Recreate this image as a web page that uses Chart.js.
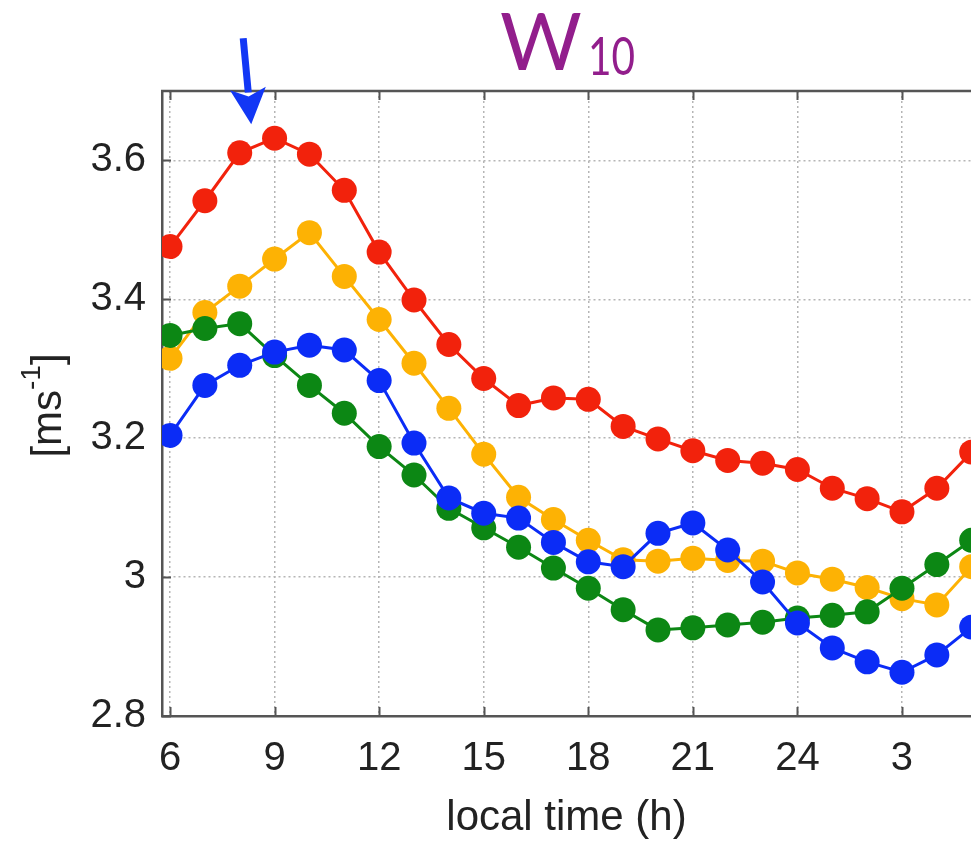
<!DOCTYPE html>
<html>
<head>
<meta charset="utf-8">
<script src="https://cdn.jsdelivr.net/npm/chart.js@4/dist/chart.umd.min.js"></script>
<style>
  html, body { margin: 0; padding: 0; background: #fff; overflow: hidden; }
  #wrap { position: relative; width: 971px; height: 844px; }
</style>
</head>
<body>
<div id="wrap"><canvas id="c" width="971" height="844"></canvas></div>
<script>
// Hour of day (after 24 the clock wraps: 25 -> 1, 27 -> 3 ...)
const hours = [6, 7, 8, 9, 10, 11, 12, 13, 14, 15, 16, 17, 18, 19, 20, 21, 22, 23, 24, 25, 26, 27, 28, 29];

// Mean 10 m wind speed, m/s
const redSeries    = [3.476, 3.542, 3.611, 3.632, 3.609, 3.557, 3.468, 3.399, 3.335, 3.286, 3.247, 3.258, 3.256, 3.217, 3.199, 3.182, 3.168, 3.164, 3.155, 3.128, 3.113, 3.094, 3.128, 3.180];
const blueSeries   = [3.204, 3.276, 3.305, 3.324, 3.334, 3.327, 3.283, 3.193, 3.114, 3.092, 3.085, 3.050, 3.022, 3.015, 3.063, 3.078, 3.039, 2.993, 2.934, 2.898, 2.878, 2.863, 2.888, 2.928];
const greenSeries  = [3.348, 3.358, 3.365, 3.319, 3.276, 3.236, 3.188, 3.147, 3.099, 3.071, 3.043, 3.013, 2.984, 2.953, 2.924, 2.927, 2.931, 2.935, 2.941, 2.945, 2.950, 2.984, 3.018, 3.053];
const orangeSeries = [3.315, 3.381, 3.419, 3.458, 3.496, 3.433, 3.371, 3.308, 3.243, 3.177, 3.115, 3.083, 3.053, 3.025, 3.023, 3.027, 3.024, 3.023, 3.006, 2.997, 2.985, 2.969, 2.960, 3.015];

const xTicks = [6, 9, 12, 15, 18, 21, 24, 27];
const yTicks = [2.8, 3.0, 3.2, 3.4, 3.6];

const colors = { red: '#F2220C', blue: '#0B2CF6', green: '#0C8714', orange: '#FDB204' };

const pts = vals => vals.map((v, i) => ({ x: hours[i], y: v }));

function series(vals, color) {
  return {
    data: pts(vals),
    borderColor: color,
    backgroundColor: color,
    borderWidth: 3,
    pointRadius: 12.5,
    pointBorderWidth: 0,
    pointBackgroundColor: color,
    tension: 0
  };
}

const AXIS_COLOR = '#555';
const TEXT_COLOR = '#222';
const FONT = 'Liberation Sans, Arial, sans-serif';

// Frame on top, inward tick marks, y-axis title, W10 heading, arrow
const decorations = {
  id: 'decorations',
  beforeDatasetsDraw(chart) {
    const { ctx, chartArea: a, scales: { x, y } } = chart;
    ctx.save();
    ctx.strokeStyle = AXIS_COLOR;
    ctx.lineWidth = 2.5;
    ctx.beginPath();
    ctx.moveTo(a.left - 1, a.top);
    ctx.lineTo(a.right, a.top);
    ctx.stroke();
    ctx.lineWidth = 2;
    ctx.beginPath();
    xTicks.forEach(v => {
      const px = Math.round(x.getPixelForValue(v)) + 0.5;
      ctx.moveTo(px, a.bottom); ctx.lineTo(px, a.bottom - 9);
      ctx.moveTo(px, a.top); ctx.lineTo(px, a.top + 9);
    });
    yTicks.forEach(v => {
      const py = Math.round(y.getPixelForValue(v)) + 0.5;
      ctx.moveTo(a.left, py); ctx.lineTo(a.left + 9, py);
    });
    ctx.stroke();
    ctx.restore();
  },
  afterDraw(chart) {
    const { ctx, chartArea: a, scales: { x, y } } = chart;
    ctx.save();

    // y-axis title: [ms^-1]
    const cy = (a.top + a.bottom) / 2 + 2;
    ctx.translate(61, cy);
    ctx.rotate(-Math.PI / 2);
    ctx.fillStyle = TEXT_COLOR;
    ctx.textBaseline = 'alphabetic';
    const big = '42px ' + FONT, small = '28px ' + FONT;
    ctx.font = big;
    const w1 = ctx.measureText('[ms').width;
    const w3 = ctx.measureText(']').width;
    ctx.font = small;
    const w2 = ctx.measureText('-1').width;
    let tx = -(w1 + w2 + w3) / 2;
    ctx.font = big;
    ctx.fillText('[ms', tx, 0); tx += w1;
    ctx.font = small;
    ctx.fillText('-1', tx, -21); tx += w2;
    ctx.font = big;
    ctx.fillText(']', tx, 0);
    ctx.restore();

    // heading
    ctx.save();
    ctx.fillStyle = '#921E8C';
    ctx.textBaseline = 'alphabetic';
    ctx.font = '79px Lato';
    ctx.fillText('W', 500, 70);
    ctx.save();
    ctx.translate(588, 75);
    ctx.scale(0.78, 1);
    ctx.font = '52px Lato';
    ctx.fillText('10', 0, 0);
    ctx.restore();
    ctx.restore();

    // arrow marking the morning peak
    const x0 = x.getPixelForValue(8.10), y0 = y.getPixelForValue(3.776);
    const x1 = x.getPixelForValue(8.33), y1 = y.getPixelForValue(3.652);
    const dx = x1 - x0, dy = y1 - y0, len = Math.hypot(dx, dy);
    const ux = dx / len, uy = dy / len;
    const headLen = 36, headHalf = 18;
    const bx = x1 - ux * headLen, by = y1 - uy * headLen;
    ctx.save();
    ctx.strokeStyle = '#1237F5';
    ctx.fillStyle = '#1237F5';
    ctx.lineWidth = 7;
    ctx.beginPath();
    ctx.moveTo(x0, y0);
    ctx.lineTo(bx + ux * 4, by + uy * 4);
    ctx.stroke();
    ctx.beginPath();
    ctx.moveTo(x1, y1);
    ctx.lineTo(bx - uy * headHalf, by + ux * headHalf);
    ctx.lineTo(bx + ux * 8, by + uy * 8);
    ctx.lineTo(bx + uy * headHalf, by - ux * headHalf);
    ctx.closePath();
    ctx.fill();
    ctx.restore();
  }
};

new Chart(document.getElementById('c'), {
  type: 'line',
  data: {
    datasets: [
      series(redSeries, colors.red),
      series(blueSeries, colors.blue),
      series(greenSeries, colors.green),
      series(orangeSeries, colors.orange)
    ]
  },
  options: {
    responsive: false,
    animation: false,
    devicePixelRatio: 1,
    layout: { autoPadding: false, padding: { top: 91, left: 0, right: 0, bottom: 0 } },
    plugins: { legend: { display: false }, tooltip: { enabled: false } },
    scales: {
      x: {
        type: 'linear',
        min: 5.77,
        max: 28.98,
        afterBuildTicks: s => { s.ticks = xTicks.map(v => ({ value: v })); },
        afterFit: s => { s.height = 128; s.paddingLeft = 0; s.paddingRight = 0; },
        ticks: {
          autoSkip: false,
          maxRotation: 0,
          padding: 19,
          color: TEXT_COLOR,
          font: { family: FONT, size: 40 },
          callback: v => String(v > 24 ? v - 24 : v)
        },
        grid: { color: '#b5b5b5', lineWidth: 1.5, drawTicks: false },
        border: { display: true, color: AXIS_COLOR, width: 2.5, dash: [2, 3] },
        title: {
          display: true,
          text: 'local time (h)',
          color: TEXT_COLOR,
          font: { family: FONT, size: 42 },
          padding: { top: 0, bottom: 0 }
        }
      },
      y: {
        min: 2.8,
        max: 3.7,
        afterBuildTicks: s => { s.ticks = yTicks.map(v => ({ value: v })); },
        afterFit: s => { s.width = 162; },
        ticks: {
          padding: 16,
          color: TEXT_COLOR,
          font: { family: FONT, size: 40 },
          callback: v => String(Math.round(v * 10) / 10)
        },
        grid: { color: '#b5b5b5', lineWidth: 1.5, drawTicks: false },
        border: { display: true, color: AXIS_COLOR, width: 2.5, dash: [2, 3] }
      }
    }
  },
  plugins: [decorations]
});
</script>
</body>
</html>
